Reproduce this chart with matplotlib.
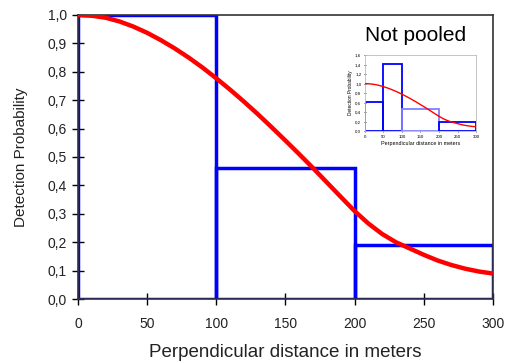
import matplotlib
matplotlib.use("Agg")
import matplotlib.pyplot as plt
import numpy as np

plt.rcParams['font.family'] = ['Liberation Sans', 'DejaVu Sans']

# histogram (pooled intervals)
bin_left = [0, 100, 200]
bin_height = [1.0, 0.46, 0.19]
bin_width = 100

# inset histogram (not pooled)
in_left = [0, 50, 100, 200]
in_width = [50, 50, 100, 100]
in_height = [0.62, 1.42, 0.46, 0.19]
in_colors = ['#0000ff', '#0000ff', '#8080ff', '#0000ff']

# fitted detection function
dist = [0, 10, 20, 30, 40, 50, 60, 70, 80, 90, 100, 110, 120, 130, 140, 150,
        160, 170, 180, 190, 200, 210, 220, 230, 240, 250, 260, 270, 280, 290, 300]
prob = [1.000, 0.997, 0.990, 0.977, 0.959, 0.937, 0.911, 0.882, 0.850, 0.815,
        0.777, 0.737, 0.695, 0.651, 0.605, 0.558, 0.510, 0.461, 0.4105, 0.360,
        0.310, 0.266, 0.229, 0.200, 0.178, 0.156, 0.136, 0.120, 0.107, 0.097,
        0.090]

xticks = [0, 50, 100, 150, 200, 250, 300]
yticks = [0.0, 0.1, 0.2, 0.3, 0.4, 0.5, 0.6, 0.7, 0.8, 0.9, 1.0]
in_yticks = [0.0, 0.2, 0.4, 0.6, 0.8, 1.0, 1.2, 1.4, 1.6]

fig = plt.figure(figsize=(5.06, 3.63), dpi=100)
ax = fig.add_axes([0.154, 0.176, 0.820, 0.783])

ax.bar(bin_left, bin_height, width=bin_width, align='edge', fill=False,
       edgecolor='#0000ff', linewidth=2.5, zorder=2)
ax.plot(dist, prob, color='#ff0000', linewidth=3.2, zorder=3,
        solid_joinstyle='round', solid_capstyle='butt')

ax.set_xlim(0, 300)
ax.set_ylim(0, 1.0)
ax.set_xticks(xticks)
ax.set_yticks(yticks)
ax.set_yticklabels([f"{v:.1f}".replace('.', ',') for v in yticks])
ax.tick_params(direction='inout', length=8, width=1, labelsize=10,
               labelcolor='#222222')
ax.tick_params(axis='x', pad=9)
ax.tick_params(axis='y', pad=4)
for s in ax.spines.values():
    s.set_color('#333333')
    s.set_linewidth(1.2)
ax.set_xlabel('Perpendicular distance in meters', fontsize=13.5,
              color='#222222', labelpad=9)
ax.set_ylabel('Detection Probability', fontsize=11, color='#222222',
              labelpad=14)

fig.text(0.822, 0.903, 'Not pooled', fontsize=15, ha='center', va='center')

ins = fig.add_axes([0.721, 0.639, 0.220, 0.209])
for l, w, h, c in zip(in_left, in_width, in_height, in_colors):
    ins.bar(l, h, width=w, align='edge', fill=False, edgecolor=c,
            linewidth=1.3, zorder=2)
ins.plot(dist, prob, color='#ff0000', linewidth=1.0, zorder=3)
ins.set_xlim(0, 300)
ins.set_ylim(0, 1.6)
ins.set_xticks(xticks)
ins.set_yticks(in_yticks)
ins.set_yticklabels([f"{v:.1f}".replace('.', ',') for v in in_yticks])
ins.tick_params(direction='inout', length=2, width=0.5, labelsize=3.2, pad=1.5)
for s in ins.spines.values():
    s.set_color('#bbbbbb')
    s.set_linewidth(0.6)
ins.set_xlabel('Perpendicular distance in meters', fontsize=3.9, labelpad=2)
ins.set_ylabel('Detection Probability', fontsize=3.4, labelpad=1.5)

fig.savefig('out.png', dpi=100)
